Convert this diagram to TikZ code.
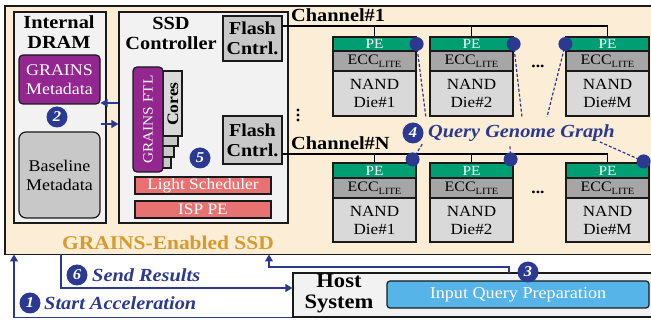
\documentclass[tikz,border=0pt]{standalone}
\usepackage{fontspec}
\setmainfont{Liberation Serif}[FakeStretch=1.1]
\usetikzlibrary{arrows.meta}
\definecolor{ssdbg}{HTML}{FCEDD6}
\definecolor{panelbg}{HTML}{F2F2F2}
\definecolor{purp}{HTML}{93278F}
\definecolor{gbox}{HTML}{C8C8C8}
\definecolor{salmon}{HTML}{E87272}
\definecolor{pegreen}{HTML}{009E73}
\definecolor{eccgray}{HTML}{A6A6A6}
\definecolor{nandgray}{HTML}{D9D9D9}
\definecolor{navy}{HTML}{2B3990}
\definecolor{gold}{HTML}{D69A2D}
\definecolor{skyb}{HTML}{56B4E9}
\definecolor{edge}{HTML}{1A1A1A}
\newcommand{\myfs}[2]{\fontsize{#1}{#2}\selectfont}
\tikzset{
  wh/.style 2 args={minimum width=#1, minimum height=#2},
  bx/.style={draw=edge, line width=1.2pt, inner sep=0pt, align=center},
  panelbox/.style={bx, fill=panelbg},
  head/.style={font=\bfseries\myfs{18.5}{20}, align=center, inner sep=0pt},
  grayhead/.style={bx, fill=gbox, font=\bfseries\myfs{18.2}{20}},
  purpbox/.style={bx, fill=purp, text=white, rounded corners=4pt},
  salbox/.style={bx, fill=salmon, text=white, font=\myfs{15.8}{16}},
  pebox/.style={bx, fill=pegreen, text=white, font=\myfs{14}{14}, wh={83}{14}},
  eccbox/.style={bx, fill=eccgray, font=\myfs{14.5}{14}, wh={83}{20}},
  nandbox/.style={bx, fill=nandgray, font=\myfs{15.5}{18}, wh={83}{45}},
  num/.style={circle, fill=navy, text=white, inner sep=0pt, minimum size=21pt, font=\bfseries\itshape\myfs{15}{15}},
  lbl/.style={text=navy, font=\bfseries\itshape\myfs{18.5}{20}, anchor=west, inner sep=0pt},
  arr/.style={draw=navy, line width=1.4pt, -{Triangle[length=7pt,width=8pt]}},
  chan/.style={draw=black, line width=1.5pt},
  qline/.style={draw=navy, line width=1.2pt, dash pattern=on 3pt off 2pt},
}
\begin{document}
\begin{tikzpicture}[x=1pt,y=-1pt]
\useasboundingbox (0,0) rectangle (651,320);
\clip (0,0) rectangle (651,320);

% SSD enclosure
\node[bx, fill=ssdbg, wh={655}{248.5}] (ssd) at (332.5,130.25) {};
\node[font=\bfseries\myfs{19.5}{20}, text=gold, inner sep=0pt] (ssdt) at (168,243) {GRAINS-Enabled SSD};

% Internal DRAM
\node[panelbox, wh={92}{211}] (dram) at (60,117.5) {};
\node[head] (dramt) at (59,32) {Internal\\DRAM};
\node[purpbox, wh={81}{49}, font=\myfs{16.3}{19}] (gmeta) at (59.5,79.5) {GRAINS\\Metadata};
\node[bx, fill=gbox, rounded corners=7pt, wh={81}{86}, font=\myfs{16.3}{19}] (bmeta) at (59.5,175) {Baseline\\Metadata};

% SSD controller
\node[panelbox, wh={169}{211}] (ctrl) at (203.5,117.5) {};
\node[head] (ctrlt) at (171,33) {SSD\\Controller};
\node[grayhead, wh={59}{45}] (flash1) at (252.5,38.5) {Flash\\Cntrl.};
\node[grayhead, wh={59}{48}] (flash2) at (252.5,140) {Flash\\Cntrl.};

% cores stack
\node[bx, fill=gbox, wh={21}{58}] (card4) at (160.5,139) {};
\node[bx, fill=gbox, wh={24}{57}] (card3) at (162,128.5) {};
\node[bx, fill=gbox, wh={28}{56}] (card2) at (164,118) {};
\node[bx, fill=nandgray, wh={19}{65}] (cores) at (172.5,103.5) {};
\node[font=\bfseries\myfs{16}{16}, rotate=90, inner sep=0pt] (corest) at (173,104) {Cores};
\node[purpbox, rotate=90, wh={105}{30}, font=\myfs{14}{14}] (ftl) at (148,119.5) {GRAINS FTL};

\node[salbox, wh={136}{17}] (light) at (203,185.5) {Light Scheduler};
\node[salbox, wh={136}{17}] (isp) at (203,209.5) {ISP PE};

% DRAM <-> controller arrows
\draw[arr] ([yshift=14.5pt]ctrl.west) -- ([yshift=14.5pt]ctrl.west -| gmeta.east);
\draw[arr] ([yshift=-6.5pt]ctrl.west -| gmeta.east) -- ([yshift=-6.5pt]ctrl.west);
\node[num] (n2) at (57,117) {2};
\node[num] (n5) at (200,158) {5};

% NAND dies
\foreach \n/\x/\lab in {1/374.5/1, 2/471.5/2, M/607.5/M} {
  \node[pebox] (pe1\n) at (\x,44) {PE};
  \node[eccbox] (ecc1\n) at (\x,61) {ECC\raisebox{-2.5pt}{\myfs{9.5}{10}LITE}};
  \node[nandbox] (nand1\n) at (\x,93.5) {NAND\\Die\#\lab};
  \node[pebox, wh={83}{15}] (pe2\n) at (\x,170.5) {PE};
  \node[eccbox] (ecc2\n) at (\x,188) {ECC\raisebox{-2.5pt}{\myfs{9.5}{10}LITE}};
  \node[nandbox, wh={83}{44}] (nand2\n) at (\x,220) {NAND\\Die\#\lab};
}
\node[font=\bfseries\myfs{16}{16}, inner sep=0pt] (dots1) at (538,66) {...};
\node[font=\bfseries\myfs{16}{16}, inner sep=0pt] (dots2) at (538,192) {...};

% channels
\coordinate (c1) at ([yshift=12.5pt]flash1.east);
\coordinate (c2) at ([yshift=-14pt]flash2.east);
\draw[chan] (c1) -| (pe1M.north);
\draw[chan] (pe11.north) -- (pe11.north |- c1);
\draw[chan] (pe12.north) -- (pe12.north |- c1);
\draw[chan] (c2) -| (pe2M.north);
\draw[chan] (pe21.north) -- (pe21.north |- c2);
\draw[chan] (pe22.north) -- (pe22.north |- c2);
\node[head, anchor=west] (ch1) at (291,15) {Channel\#1};
\node[head, anchor=west] (chN) at (291,143) {Channel\#N};
\fill (298,110) circle (1.6pt) (298,115) circle (1.6pt) (298,120) circle (1.6pt);

% query genome graph
\node[num] (n4) at (413,133) {4};
\node[lbl] (qgg) at (428,133) {Query Genome Graph};
\coordinate (d11) at (pe11.east);
\coordinate (d12) at (pe12.east);
\coordinate (d1M) at (pe1M.west);
\coordinate (d21) at ([xshift=-4pt,yshift=3pt]pe21.north east);
\coordinate (d22) at ([xshift=-3pt,yshift=3pt]pe22.north east);
\coordinate (d2M) at ([xshift=-6pt,yshift=1pt]pe2M.north east);
\coordinate (qa) at (426,118);
\coordinate (qb) at (522,117);
\coordinate (qc) at (547,117);
\coordinate (qd) at (423,143);
\coordinate (qe) at (510,146);
\coordinate (qf) at (600,142);
\draw[qline] (d11) -- (qa);
\draw[qline] (d12) -- (qb);
\draw[qline] (d1M) -- (qc);
\draw[qline] (d21) -- (qd);
\draw[qline] (d22) -- (qe);
\draw[qline] (d2M) -- (qf);
\foreach \d in {d11,d12,d1M,d21,d22,d2M} \fill[navy] (\d) circle (7pt);

% host
\node[panelbox, wh={367}{44}] (host) at (476.5,295) {};
\node[font=\bfseries\myfs{20.5}{21}, align=center, inner sep=0pt] (hostt) at (339,294) {Host\\System};
\node[bx, fill=skyb, text=white, rounded corners=3pt, wh={262}{27}, font=\myfs{16.5}{17}] (iqp) at (518,294.5) {Input Query Preparation};

% host <-> SSD arrows
\coordinate (a6s) at (61,254.5);
\draw[arr] (a6s) |- ([yshift=7pt]host.west);
\node[num] (n6) at (77,275) {6};
\node[lbl] (sr) at (92,275) {Send Results};

\coordinate (a1e) at (14,254.5);
\draw[arr] (host.south west) -| (a1e);
\node[num] (n1) at (30,303) {1};
\node[lbl] (sa) at (44,303) {Start Acceleration};

\coordinate (a3s) at (509,273);
\coordinate (a3e) at (269,254.5);
\draw[arr] (a3s) -- ++(0,-6) -| (a3e);
\node[num] (n3) at (528,272) {3};
\end{tikzpicture}
\end{document}
